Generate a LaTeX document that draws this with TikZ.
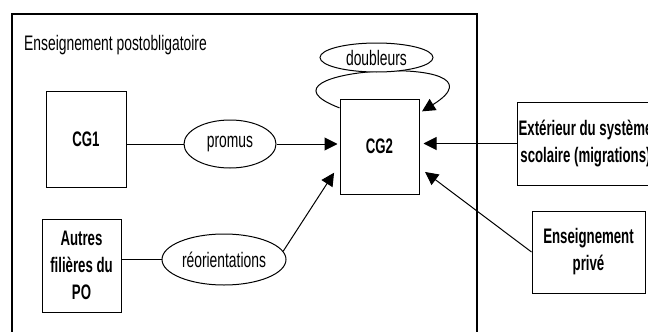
\documentclass[tikz,border=0pt]{standalone}
\usepackage{fontspec}
\setmainfont{Liberation Sans}[FakeStretch=0.66,BoldFeatures={FakeStretch=0.63}]
\usetikzlibrary{arrows.meta,shapes.geometric}
\begin{document}
\begin{tikzpicture}[x=1pt,y=-1pt,
	every node/.style={font=\fontsize{21}{27}\selectfont},
	box/.style={draw,line width=1pt,align=center,inner sep=1pt,font=\fontsize{21}{27}\selectfont\bfseries},
	bulle/.style={draw,ellipse,line width=1pt,fill=white,inner sep=0pt},
	lien/.style={line width=1pt},
	fleche/.style={line width=1pt,-{Triangle[length=13pt,width=13pt]}}]
	\useasboundingbox(0,0) rectangle (648,332);
	\clip(0,0) rectangle (648,332);
	\draw[line width=1.2pt](12,14) rectangle (477,345);
	\node[anchor=base west,inner sep=0pt](titre) at (24,50) {Enseignement postobligatoire};
	\node[box,minimum width=80pt,minimum height=96pt](cg1) at (86,139) {CG1};
	\node[box,minimum width=79pt,minimum height=95pt](cg2) at (379.5,146.5) {CG2};
	\node[bulle,minimum width=92pt,minimum height=48pt](promus) at (230,144) {promus};
	\node[box,minimum width=79pt,minimum height=93pt](autres) at (81.5,265.5) {Autres\\filières du\\PO};
	\node[bulle,minimum width=124pt,minimum height=51pt](reo) at (224,259.5) {réorientations};
	\node[box,anchor=west,minimum width=136pt,minimum height=83pt](ext) at (517,143.5) {Extérieur du système\\scolaire (migrations)};
	\node[box,minimum width=113pt,minimum height=82pt](prive) at (588.5,252) {Enseignement\\privé};
	% boucle des doubleurs
	\draw[fleche,shorten >=3pt](cg2.136) .. controls +(-105,-40) and +(100,-62) .. (cg2.40);
	\node[bulle,minimum width=113pt,minimum height=29pt](doubl) at (376.5,57.5) {doubleurs};
	% flux vers CG2
	\draw[lien](cg1.east |- promus.west) -- (promus.west);
	\draw[fleche,shorten >=2pt](promus.east) -- (promus.east -| cg2.west);
	\draw[fleche,shorten >=4pt](ext.west) -- (ext.west -| cg2.east);
	\draw[lien](autres.east |- reo.west) -- (reo.west);
	\draw[fleche,shorten >=10pt](reo.8) -- (cg2.204);
	\draw[fleche,shorten >=7pt](prive.west) -- (cg2.-28);
\end{tikzpicture}
\end{document}
